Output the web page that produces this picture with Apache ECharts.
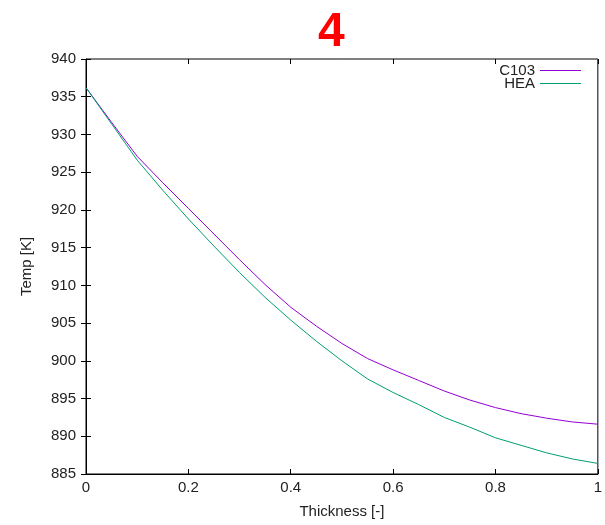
<!DOCTYPE html>
<html>
<head>
<meta charset="utf-8">
<script src="https://cdn.jsdelivr.net/npm/echarts@6/dist/echarts.min.js"></script>
<style>
  html, body { margin: 0; padding: 0; background: #fff; }
  #chart { width: 605px; height: 525px; }
</style>
</head>
<body>
<div id="chart"></div>
<script>
// Temperature profile through the wall thickness for two materials
const thickness = [0, 0.05, 0.1, 0.15, 0.2, 0.25, 0.3, 0.35, 0.4, 0.45, 0.5,
                   0.55, 0.6, 0.65, 0.7, 0.75, 0.8, 0.85, 0.9, 0.95, 1.0];
const tempC103 = [936.2, 931.6, 927.1, 923.6, 920.2, 916.8, 913.4, 910.1, 907.1, 904.6, 902.3,
                  900.3, 898.8, 897.4, 896.0, 894.8, 893.8, 893.0, 892.4, 891.9, 891.6];
const tempHEA  = [936.2, 931.4, 926.6, 922.6, 918.8, 915.2, 911.7, 908.4, 905.4, 902.6, 900.0,
                  897.6, 895.8, 894.2, 892.5, 891.2, 889.8, 888.8, 887.8, 887.0, 886.4];
const seriesNames = ['C103', 'HEA'];
const seriesColors = ['#9400d3', '#009e73'];

const FONT = 'Liberation Sans, Arial, sans-serif';
const pairs = (ys) => thickness.map((x, i) => [x, ys[i]]);

const chart = echarts.init(document.getElementById('chart'), null, { renderer: 'canvas' });

const tickStyle = { show: true, inside: true, length: 5, lineStyle: { color: '#000', width: 1 } };
const labelStyle = { color: '#222', fontSize: 15, fontFamily: FONT };

chart.setOption({
  animation: false,
  backgroundColor: '#fff',
  title: {
    text: '4',
    left: 313,
    top: 4,
    textStyle: { color: '#ff0000', fontSize: 48, fontWeight: 'bold', fontFamily: FONT }
  },
  legend: {
    data: seriesNames,
    orient: 'vertical',
    align: 'right',
    right: 19,
    top: 58,
    itemGap: -2,
    itemWidth: 41,
    itemHeight: 13,
    icon: 'path://M0,6 L41,6 L41,7 L0,7 Z',
    textStyle: { color: '#222', fontSize: 15, fontFamily: FONT, lineHeight: 13 }
  },
  grid: { left: 86, right: 3, top: 59, bottom: 51, show: true, borderColor: '#000', borderWidth: 1 },
  xAxis: [{
    type: 'value', min: 0, max: 1, interval: 0.2,
    name: 'Thickness [-]', nameLocation: 'middle', nameGap: 30,
    nameTextStyle: { color: '#222', fontSize: 15, fontFamily: FONT },
    axisLine: { show: true, lineStyle: { color: '#000' } },
    axisTick: tickStyle,
    axisLabel: Object.assign({ margin: 6, formatter: (v) => String(+v.toFixed(1)) }, labelStyle),
    splitLine: { show: false }
  }, {
    type: 'value', min: 0, max: 1, interval: 0.2, position: 'top',
    axisLine: { show: false }, axisTick: tickStyle, axisLabel: { show: false }, splitLine: { show: false }
  }],
  yAxis: [{
    type: 'value', min: 885, max: 940, interval: 5,
    name: 'Temp [K]', nameLocation: 'middle', nameGap: 52,
    nameTextStyle: { color: '#222', fontSize: 15, fontFamily: FONT },
    axisLine: { show: true, lineStyle: { color: '#000' } },
    axisTick: tickStyle,
    axisLabel: Object.assign({ margin: 10 }, labelStyle),
    splitLine: { show: false }
  }, {
    type: 'value', min: 885, max: 940, interval: 5, position: 'right',
    axisLine: { show: false }, axisTick: tickStyle, axisLabel: { show: false }, splitLine: { show: false }
  }],
  series: [
    {
      name: seriesNames[0], type: 'line', data: pairs(tempC103), showSymbol: false,
      lineStyle: { color: seriesColors[0], width: 1 }, itemStyle: { color: seriesColors[0] }
    },
    {
      name: seriesNames[1], type: 'line', data: pairs(tempHEA), showSymbol: false,
      lineStyle: { color: seriesColors[1], width: 1 }, itemStyle: { color: seriesColors[1] }
    }
  ]
});
</script>
</body>
</html>
